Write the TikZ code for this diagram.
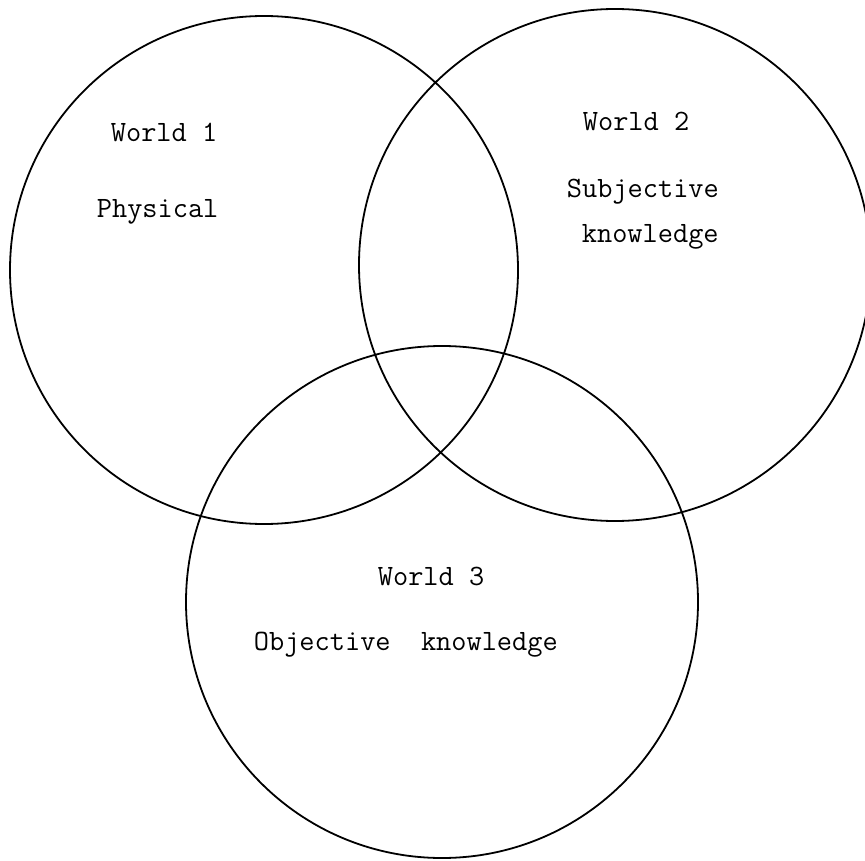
\documentclass[tikz,border=0pt]{standalone}
\usepackage{fontspec}
\tikzset{lbl/.style={anchor=base west, inner sep=0pt, font=\ttfamily\fontsize{29.5}{34}\selectfont}}
\begin{document}
\begin{tikzpicture}[x=1pt, y=-1pt, line width=1.8pt]
    \clip (0,0) rectangle (865,861);
    \draw (264,270) coordinate (C1) circle [radius=254]
          (615,265) coordinate (C2) circle [radius=256]
          (442,602) coordinate (C3) circle [radius=256];
    \draw (110,142) node [lbl] (W1)  {World 1}
          ( 96,218) node [lbl] (P1)  {Physical}
          (582,131) node [lbl] (W2)  {World 2}
          (566,198) node [lbl] (S2)  {Subjective}
          (581,243) node [lbl] (K2)  {knowledge}
          (377,585) node [lbl] (W3)  {World 3}
          (253,650) node [lbl] (O3)  {Objective\ \ knowledge};
\end{tikzpicture}
\end{document}
